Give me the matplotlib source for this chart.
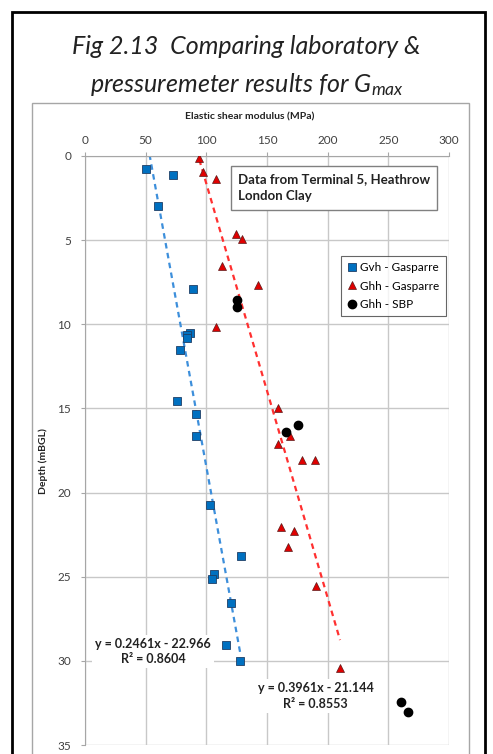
import matplotlib.pyplot as plt
from matplotlib.patches import Rectangle
import numpy as np

plt.rcParams['font.family'] = ['Lato', 'DejaVu Sans']
plt.rcParams['mathtext.fontset'] = 'custom'
plt.rcParams['mathtext.rm'] = 'Lato:italic'
plt.rcParams['mathtext.it'] = 'Lato:italic'

# Gvh - Gasparre (lab)
gvh_g = [50.2, 72.5, 59.9, 89.0, 86.5, 84.3, 83.8, 78.3, 76.1, 91.8, 91.2, 103.0,
         128.3, 106.3, 104.7, 120.1, 116.2, 127.7]
gvh_z = [0.77, 1.15, 2.98, 7.92, 10.5, 10.65, 10.8, 11.5, 14.58, 15.32, 16.63, 20.73,
         23.77, 24.86, 25.16, 26.55, 29.05, 30.0]

# Ghh - Gasparre (lab)
ghh_g = [94.2, 97.0, 108.0, 124.5, 129.2, 113.2, 142.9, 108.0, 158.8, 169.0, 158.8,
         178.9, 189.6, 161.3, 172.0, 167.6, 190.7, 210.2]
ghh_z = [0.1, 0.93, 1.39, 4.66, 4.96, 6.51, 7.64, 10.14, 14.98, 16.65, 17.1,
         18.07, 18.07, 22.02, 22.28, 23.25, 25.54, 30.42]

# Ghh - SBP (self-boring pressuremeter)
sbp_g = [125.3, 125.3, 175.9, 165.7, 260.8, 266.0]
sbp_z = [8.57, 9.0, 15.97, 16.41, 32.42, 33.02]

# linear trendlines (depth = m*G + c)
trend_gvh = (0.3961, -21.144)
trend_ghh = (0.2461, -22.966)

W, H = 493, 754


def fx(px):
    return px / W


def fy(py):
    return 1 - py / H


fig = plt.figure(figsize=(W / 100, H / 100), dpi=100)

# outer frame and chart area
fig.add_artist(Rectangle((fx(12), fy(770)), fx(485) - fx(12), fy(12) - fy(770),
                         transform=fig.transFigure, fill=False, ec='black', lw=2))
fig.add_artist(Rectangle((fx(32), fy(770)), fx(469) - fx(32), fy(103) - fy(770),
                         transform=fig.transFigure, fill=False, ec='#a6a6a6', lw=1))

fig.text(0.5, fy(47), 'Fig 2.13  Comparing laboratory &', ha='center', va='center',
         fontsize=18, style='italic', color='#222222')
fig.text(0.5, fy(85), r'pressuremeter results for G$_{\mathrm{max}}$', ha='center',
         va='center', fontsize=18, style='italic', color='#222222')

ax = fig.add_axes([fx(85), fy(745), fx(449) - fx(85), fy(156) - fy(745)])
ax.set_xlim(0, 300)
ax.set_ylim(35, 0)
ax.set_xticks(np.arange(0, 301, 50))
ax.set_yticks(np.arange(0, 36, 5))
ax.xaxis.tick_top()
ax.tick_params(axis='both', length=3, color='#a6a6a6', labelsize=8.5, labelcolor='#404040')
ax.tick_params(axis='x', pad=4)
ax.tick_params(axis='y', pad=7)
ax.grid(True, color='#c8c8c8', lw=1)
ax.set_axisbelow(True)
for s in ['right', 'bottom']:
    ax.spines[s].set_visible(False)
for s in ['top', 'left']:
    ax.spines[s].set_color('#a6a6a6')

fig.text(fx(250), fy(117), 'Elastic shear modulus (MPa)', ha='center', va='center',
         fontsize=7.5, fontweight='bold', color='#222222')
fig.text(fx(43), fy(461), 'Depth (mBGL)', ha='center', va='center', rotation=90,
         fontsize=7.5, fontweight='bold', color='#222222')

# trendlines over the range of each data set
xg = np.array([min(gvh_g), max(gvh_g)])
ax.plot(xg, trend_gvh[0] * xg + trend_gvh[1], ls=(0, (2.5, 2)), color='#3d8fdb', lw=1.6)
xh = np.array([min(ghh_g), max(ghh_g)])
ax.plot(xh, trend_ghh[0] * xh + trend_ghh[1], ls=(0, (2.5, 2)), color='#ff3030', lw=1.6)

ax.plot(gvh_g, gvh_z, 's', ms=5.5, mfc='#0070c0', mec='#1f3f66', mew=0.6,
        label='Gvh - Gasparre', zorder=3)
ax.plot(ghh_g, ghh_z, '^', ms=6.2, mfc='#e00000', mec='#5a1a1a', mew=0.5,
        label='Ghh - Gasparre', zorder=3)
ax.plot(sbp_g, sbp_z, 'o', ms=6, mfc='black', mec='black', label='Ghh - SBP', zorder=3)

ax.text(126, 1.0, 'Data from Terminal 5, Heathrow\nLondon Clay', fontsize=9.5,
        fontweight='bold', color='#222222', va='top', ha='left', linespacing=1.55,
        bbox=dict(boxstyle='square,pad=0.55', fc='white', ec='#808080', lw=1))

leg = ax.legend(loc='upper left', bbox_to_anchor=(fx(341), fy(256)),
                bbox_transform=fig.transFigure, fontsize=8.5, frameon=True,
                fancybox=False, edgecolor='#404040', handlelength=0.8,
                handletextpad=0.3, labelspacing=0.6, borderpad=0.55, borderaxespad=0)
leg.get_frame().set_linewidth(0.8)

ax.text(56, 29.45, 'y = 0.2461x - 22.966\nR\u00b2 = 0.8604', ha='center', va='center',
        fontsize=9, fontweight='bold', color='#222222', linespacing=1.35,
        bbox=dict(boxstyle='square,pad=0.25', fc='white', ec='none'))
ax.text(190, 32.1, 'y = 0.3961x - 21.144\nR\u00b2 = 0.8553', ha='center', va='center',
        fontsize=9, fontweight='bold', color='#222222', linespacing=1.35,
        bbox=dict(boxstyle='square,pad=0.25', fc='white', ec='none'))

fig.savefig('out.png', dpi=100)
